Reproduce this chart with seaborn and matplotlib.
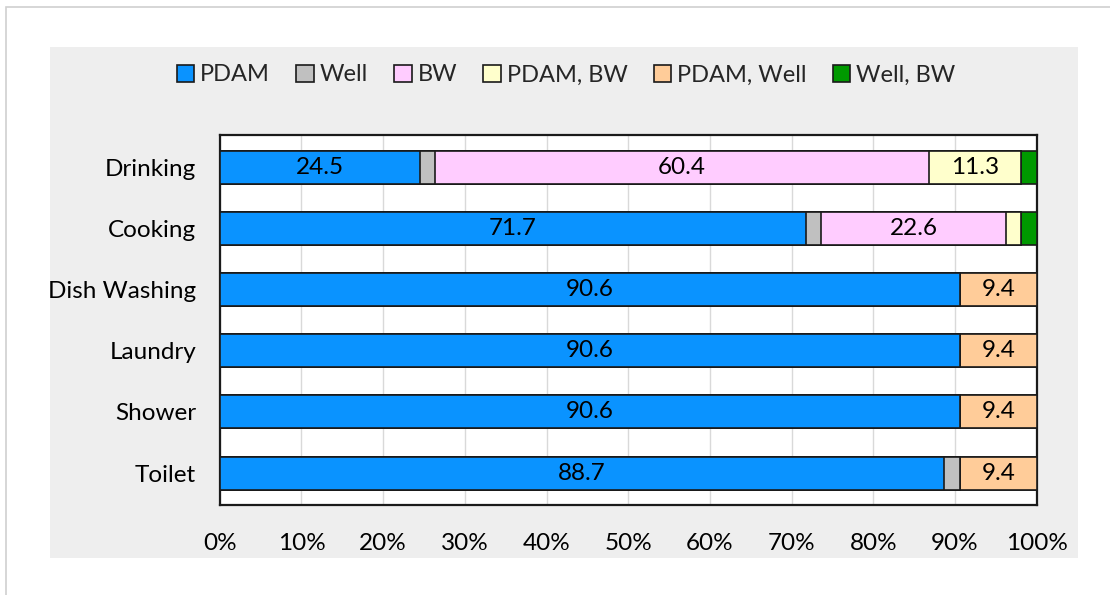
import numpy as np
import pandas as pd
import matplotlib
matplotlib.use('Agg')
import matplotlib.pyplot as plt
from matplotlib.patches import Patch, Rectangle
import seaborn as sns

sns.set_style('white')
plt.rcParams['font.family'] = ['Lato', 'DejaVu Sans']

# data (percent of households)
uses = ['Drinking', 'Cooking', 'Dish Washing', 'Laundry', 'Shower', 'Toilet']
sources = ['PDAM', 'Well', 'BW', 'PDAM, BW', 'PDAM, Well', 'Well, BW']
pdam = [24.5, 71.7, 90.6, 90.6, 90.6, 88.7]
well = [1.9, 1.9, 0.0, 0.0, 0.0, 1.9]
bw = [60.4, 22.6, 0.0, 0.0, 0.0, 0.0]
pdam_bw = [11.3, 1.9, 0.0, 0.0, 0.0, 0.0]
pdam_well = [0.0, 0.0, 9.4, 9.4, 9.4, 9.4]
well_bw = [1.9, 1.9, 0.0, 0.0, 0.0, 0.0]

colors = ['#0a93ff', '#c0c0c0', '#ffccff', '#ffffcc', '#ffcc99', '#009900']

df = pd.DataFrame({'PDAM': pdam, 'Well': well, 'BW': bw, 'PDAM, BW': pdam_bw,
                   'PDAM, Well': pdam_well, 'Well, BW': well_bw}, index=uses)
cum = df.cumsum(axis=1)

fig = plt.figure(figsize=(11.1, 5.95), dpi=100)
fig.patches.append(Rectangle((0.005, -0.01), 1.0, 0.998, transform=fig.transFigure,
                             facecolor='white', edgecolor='#d0d0d0', lw=1.2, zorder=-2))
fig.patches.append(Rectangle((0.045, 0.062), 0.926, 0.859, transform=fig.transFigure,
                             facecolor='#eeeeee', edgecolor='none', zorder=-1))

ax = fig.add_axes([0.198, 0.151, 0.736, 0.622])
ax.set_facecolor('white')

# stacked bars: draw cumulative totals from the last series to the first
for src, col in reversed(list(zip(sources, colors))):
    d = pd.DataFrame({'use': uses, 'val': cum[src].values / 100})
    sns.barplot(data=d, x='val', y='use', orient='h', color=col, width=0.54,
                edgecolor='#1a1a1a', linewidth=1.2, saturation=1, ax=ax, zorder=3)

for i, u in enumerate(uses):
    left = 0
    for src in sources:
        v = df.loc[u, src]
        if v > 5:
            ax.text((left + v / 2) / 100, i, f'{v:.1f}', ha='center', va='center',
                    fontsize=17.5, color='black', zorder=5)
        left += v

ax.set_xlim(0, 1)
ax.set_ylim(5.525, -0.525)
ax.set_xticks(np.arange(0, 1.01, 0.1))
ax.set_xticklabels([f'{int(t)}%' for t in np.arange(0, 101, 10)])
ax.xaxis.grid(True, color='#d9d9d9', lw=1, zorder=0)
ax.set_axisbelow(True)
ax.set_xlabel('')
ax.set_ylabel('')
ax.tick_params(axis='both', length=0, labelsize=17.5, colors='black')
ax.tick_params(axis='y', pad=17)
ax.tick_params(axis='x', pad=20)
for s in ax.spines.values():
    s.set_color('#1a1a1a')
    s.set_linewidth(1.6)

handles = [Patch(facecolor=c, edgecolor='#1a1a1a', lw=1.2, label=s) for s, c in zip(sources, colors)]
fig.legend(handles=handles, loc='center', bbox_to_anchor=(0.51, 0.874), ncol=6,
           frameon=False, fontsize=17, handlelength=0.75, handleheight=0.75,
           handletextpad=0.25, columnspacing=1.1)

fig.savefig('out.png', dpi=100)
